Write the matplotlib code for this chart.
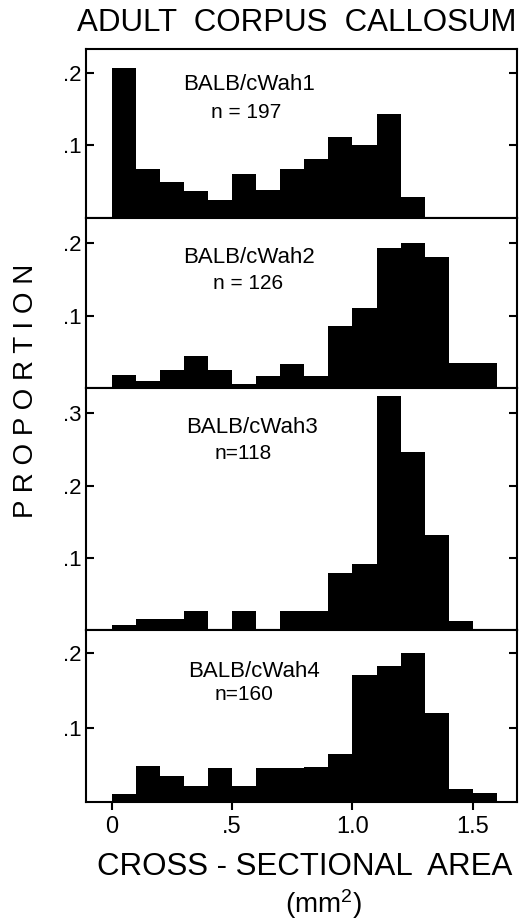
import matplotlib
matplotlib.use('Agg')
from matplotlib import pyplot as plt

plt.rcParams['font.family'] = ['Liberation Sans', 'DejaVu Sans']
plt.rcParams['mathtext.default'] = 'regular'

# edges of the 0.1 mm^2 bins
bin_edges = [0.0, 0.1, 0.2, 0.3, 0.4, 0.5, 0.6, 0.7, 0.8, 0.9,
             1.0, 1.1, 1.2, 1.3, 1.4, 1.5, 1.6]

wah1 = [0.207, 0.067, 0.050, 0.037, 0.025, 0.061, 0.038, 0.068, 0.081, 0.111,
        0.101, 0.143, 0.029, 0.0, 0.0, 0.0]
wah2 = [0.018, 0.009, 0.025, 0.044, 0.025, 0.006, 0.016, 0.033, 0.017, 0.086,
        0.111, 0.194, 0.201, 0.181, 0.034, 0.034]
wah3 = [0.007, 0.015, 0.015, 0.026, 0.0, 0.026, 0.0, 0.026, 0.026, 0.079,
        0.091, 0.324, 0.246, 0.131, 0.013, 0.0]
wah4 = [0.011, 0.049, 0.035, 0.021, 0.046, 0.022, 0.046, 0.046, 0.047, 0.065,
        0.170, 0.183, 0.200, 0.120, 0.017, 0.012]

strains = ['BALB/cWah1', 'BALB/cWah2', 'BALB/cWah3', 'BALB/cWah4']
counts = ['n = 197', 'n = 126', 'n=118', 'n=160']
series = [wah1, wah2, wah3, wah4]
ymax = [0.233, 0.235, 0.335, 0.231]
yticks = [[0.1, 0.2], [0.1, 0.2], [0.1, 0.2, 0.3], [0.1, 0.2]]
ytick_labels = [['.1', '.2'], ['.1', '.2'], ['.1', '.2', '.3'], ['.1', '.2']]
xticks = [0, 0.5, 1.0, 1.5]
xtick_labels = ['0', '.5', '1.0', '1.5']

# label anchor positions in data units (strain name, sample size)
label_pos = [((0.57, 0.184), (0.56, 0.146)),
             ((0.57, 0.180), (0.565, 0.145)),
             ((0.585, 0.281), (0.545, 0.245)),
             ((0.59, 0.175), (0.55, 0.144))]


def make_figure():
    fig, axes = plt.subplots(4, 1, figsize=(5.23, 9.23), dpi=100,
                             gridspec_kw={'height_ratios': [169, 170, 242, 172],
                                          'hspace': 0})
    fig.subplots_adjust(left=0.1644, right=0.9885, top=0.9469, bottom=0.1311)

    for i, ax in enumerate(axes):
        # one filled outline per histogram, so no seams between bars
        ax.stairs(series[i], bin_edges, fill=True, color='black')
        ax.set_xlim(-0.106, 1.683)
        ax.set_ylim(0, ymax[i])
        ax.set_yticks(yticks[i])
        ax.set_yticklabels(ytick_labels[i])
        ax.set_xticks(xticks)
        if i == 3:
            ax.set_xticklabels(xtick_labels)
        else:
            ax.set_xticklabels([])
        for sp in ax.spines.values():
            sp.set_linewidth(1.5)
        ax.tick_params(axis='y', direction='in', left=True, right=True,
                       length=6, width=1.5, labelsize=16, pad=3)
        ax.tick_params(axis='x', direction='out', bottom=True, top=False,
                       length=6, width=1.5, labelsize=17, pad=4)
        (sx, sy), (nx, ny) = label_pos[i]
        ax.text(sx, sy, strains[i], ha='center', va='center', fontsize=16)
        ax.text(nx, ny, counts[i], ha='center', va='center', fontsize=15)

    fig.text(0.568, 0.975, 'ADULT  CORPUS  CALLOSUM', ha='center', va='center',
             fontsize=22.5)
    fig.text(0.05, 0.577, 'P R O P O R T I O N', ha='center', va='center',
             rotation=90, fontsize=20)
    fig.text(0.583, 0.061, 'CROSS - SECTIONAL  AREA', ha='center', va='center',
             fontsize=22.5)
    fig.text(0.618, 0.021, '(mm$^2$)', ha='center', va='center', fontsize=20)

    fig.savefig('out.png', dpi=100)


if __name__ == '__main__':
    make_figure()
